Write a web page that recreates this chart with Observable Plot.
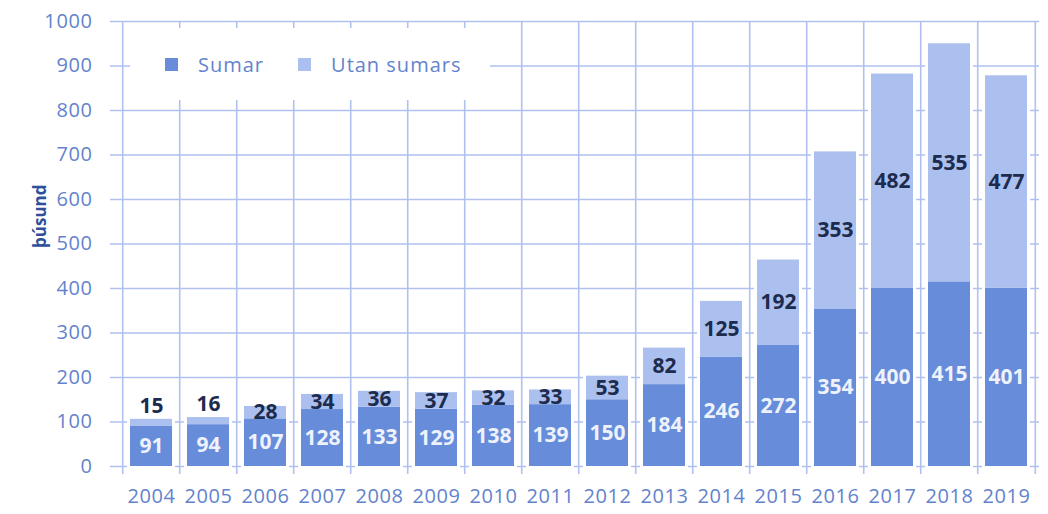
<!DOCTYPE html>
<html>
<head>
<meta charset="utf-8">
<script src="https://cdn.jsdelivr.net/npm/d3@7"></script>
<script src="https://cdn.jsdelivr.net/npm/@observablehq/plot@0.6"></script>
<style>
  html, body { margin: 0; padding: 0; background: #fff; }
  #wrap { position: relative; width: 1048px; height: 514px; }
  #legend {
    position: absolute; left: 130px; top: 28px; width: 360px; height: 72px;
    background: #fff; display: flex; align-items: center;
    font-family: "Open Sans", sans-serif; font-size: 20px; color: #6383cc;
    letter-spacing: 1px;
  }
  .sw { display: inline-block; width: 13px; height: 13px; margin-right: 20px; }
  .ticks text { letter-spacing: 0.6px; }
</style>
</head>
<body>
<div id="wrap"></div>
<script>
const years = [2004,2005,2006,2007,2008,2009,2010,2011,2012,2013,2014,2015,2016,2017,2018,2019];
const sumar = [91,94,107,128,133,129,138,139,150,184,246,272,354,400,415,401];
const utanSumars = [15,16,28,34,36,37,32,33,53,82,125,192,353,482,535,477];
const seriesNames = ["Sumar", "Utan sumars"];
const seriesColors = ["#668cda", "#abc0ee"];
const yTicks = [0,100,200,300,400,500,600,700,800,900,1000];
const yLabel = "þúsund";

const W = 1048, H = 514, mL = 118, mR = 9, mT = 21, mB = 40;
const step = (W - mL - mR) / years.length;

const rows = [];
years.forEach((y, i) => {
  rows.push({year: y, series: seriesNames[0], value: sumar[i]});
  rows.push({year: y, series: seriesNames[1], value: utanSumars[i]});
});
const totals = years.map((y, i) => ({year: y, total: sumar[i] + utanSumars[i]}));
const labels = [];
years.forEach((y, i) => {
  labels.push({year: y, pos: sumar[i] / 2, text: String(sumar[i]), fill: "#eef2fc"});
  const u = utanSumars[i];
  const pos = u < 20 ? sumar[i] + u + 30 : sumar[i] + u / 2;
  labels.push({year: y, pos, text: String(u), fill: "#1c2b4e"});
});

const gridColor = "#b0c1ef";
const chart = Plot.plot({
  width: W, height: H,
  marginLeft: mL, marginRight: mR, marginTop: mT, marginBottom: mB,
  style: {fontFamily: "'Open Sans', sans-serif", background: "#fff"},
  x: {domain: years, paddingInner: 0.27, paddingOuter: 0.135, axis: null},
  y: {domain: [0, 1000], insetBottom: 8, axis: null},
  color: {domain: seriesNames, range: seriesColors},
  marks: [
    Plot.ruleY(yTicks, {y: d => d, stroke: gridColor, strokeWidth: 1.6, insetLeft: -8}),
    Plot.ruleX(years, {x: d => d, dx: -step / 2, stroke: gridColor, strokeWidth: 1.6}),
    Plot.ruleX(years.slice(-1), {x: d => d, dx: step / 2, stroke: gridColor, strokeWidth: 1.6}),
    Plot.barY(totals, {x: "year", y: "total", fill: "#fff", stroke: "#fff", strokeWidth: 6}),
    Plot.barY(rows, Plot.stackY({x: "year", y: "value", fill: "series"})),
    Plot.text(labels, {x: "year", y: "pos", text: "text", fill: "fill", fontWeight: "bold", fontSize: 21}),
    Plot.axisY(yTicks, {tickSize: 0, tickPadding: 26, fontSize: 20, fill: "#6383cc", label: null, tickFormat: d => String(d), className: "ticks"}),
    Plot.axisX({tickSize: 0, tickPadding: 14, fontSize: 20, fill: "#6383cc", label: null, tickFormat: d => String(d), className: "ticks"}),
    Plot.text([yLabel], {text: d => d, frameAnchor: "left", dx: -78, rotate: -90, fontSize: 17, fontWeight: "bold", fill: "#2f4f9c"})
  ]
});
const wrap = document.getElementById("wrap");
wrap.appendChild(chart);
const legend = document.createElement("div");
legend.id = "legend";
legend.innerHTML = seriesNames.map((n, i) =>
  `<span style="display:inline-flex;align-items:center;margin-left:${i === 0 ? 35 : 34}px"><span class="sw" style="background:${seriesColors[i]}"></span>${n}</span>`
).join("");
wrap.appendChild(legend);
</script>
</body>
</html>
